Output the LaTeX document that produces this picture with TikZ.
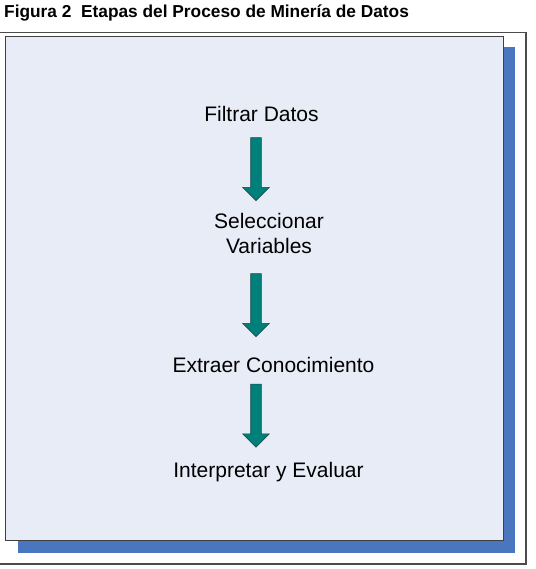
\documentclass[tikz,border=0pt]{standalone}
\usepackage{fontspec}
\setmainfont{Liberation Sans}
\usetikzlibrary{shapes,arrows}

\definecolor{fondo}{HTML}{E8ECF7}
\definecolor{sombra}{HTML}{4A76C0}
\definecolor{verde}{HTML}{00807A}
\definecolor{borde}{HTML}{1E4A48}

\begin{document}
\begin{tikzpicture}[x=1pt,y=-1pt]
\tikzstyle{titulo} = [font=\fontsize{17.3}{20}\selectfont\bfseries, anchor=base west,
    inner sep=0pt]
\tikzstyle{etapa} = [font=\fontsize{21}{25}\selectfont, align=center, anchor=base,
    inner sep=0pt]
\tikzstyle{flecha} = [single arrow, draw=borde, fill=verde, shape border rotate=270,
    minimum height=63pt, minimum width=26pt, single arrow head extend=8pt,
    inner sep=5pt, line width=0.6pt]
    \useasboundingbox (0,0) rectangle (535,569);
    % Title and the frame with its shadow
    \node [titulo] (titulo) at (4,18) {Figura 2\ \ Etapas del Proceso de Minería de Datos};
    \draw [gray!60!black, line width=1.2pt] (-2,32.5) rectangle (526,564);
    \fill [sombra] (18,47.5) rectangle (515,552.5);
    \draw [fill=fondo, draw=gray!50!black, line width=0.8pt] (5.5,36) rectangle (503,540);

    % The stages
    \coordinate (eje) at (256,0);
    \node [etapa] (filtrar) at (261.5,122) {Filtrar Datos};
    \node [etapa] (seleccionar) at (269,253) {Seleccionar\\Variables};
    \node [etapa] (extraer) at (273.5,372) {Extraer Conocimiento};
    \node [etapa] (interpretar) at (268.5,477) {Interpretar y Evaluar};

    % Arrows between the stages
    \path (filtrar.south -| eje) -- node [flecha, yshift=1pt] (f1) {} (seleccionar.north -| eje);
    \path (seleccionar.south -| eje) -- node [flecha, yshift=2.5pt] (f2) {} (extraer.north -| eje);
    \path (extraer.south -| eje) -- node [flecha, yshift=4pt] (f3) {} (interpretar.north -| eje);
\end{tikzpicture}
\end{document}
